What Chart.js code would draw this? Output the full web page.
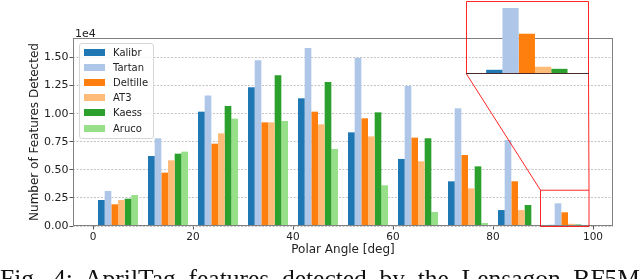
<!DOCTYPE html>
<html>
<head>
<meta charset="utf-8">
<script src="https://cdn.jsdelivr.net/npm/chart.js@4.4.1/dist/chart.umd.min.js"></script>
<style>
  html, body { margin: 0; padding: 0; background: #fff; }
  body { width: 640px; height: 279px; overflow: hidden; position: relative; font-family: "DejaVu Sans", sans-serif; }
  #mainChart { position: absolute; left: 0; top: 0; }
  #insetChart { position: absolute; }
  #legend { position: absolute; left: 79px; top: 43px; width: 73px; height: 94px; border: 1px solid #d6d6d6;
            border-radius: 3px; background: rgba(255,255,255,0.8); font-size: 10px; color: #222; }
  .row { position: absolute; left: 0; height: 14px; display: flex; align-items: center; white-space: nowrap; }
  .sw { width: 21px; height: 7px; margin-left: 4px; margin-right: 8px; }
  #caption { position: absolute; left: 0; top: 266px; width: 640px; font-family: "Liberation Serif", serif;
             font-size: 25.5px; line-height: 25.5px; text-align: justify; text-align-last: justify; color: #111; }
</style>
</head>
<body>
<canvas id="mainChart" width="640" height="279"></canvas>
<canvas id="insetChart"></canvas>
<div id="legend"></div>
<div id="caption">Fig. 4: AprilTag features detected by the Lensagon BF5M</div>
<script>
// DATOS: centro de cada bin de 10 grados
const polarBins = [5, 15, 25, 35, 45, 55, 65, 75, 85, 95];
const kalibr   = [2315, 6230, 10180, 12350, 11370, 8340, 5970, 3980, 1420, 100];
const tartan   = [3120, 7810, 11610, 14750, 15850, 14990, 12470, 10480, 7660, 2020];
const deltille = [1930, 4750, 7330, 9230, 10180, 9590, 7870, 6320, 3980, 1220];
const at3      = [2310, 5850, 8250, 9230, 9050, 7980, 5760, 3350, 1420, 195];
const kaess    = [2430, 6440, 10690, 13420, 12820, 10120, 7810, 5310, 1870, 130];
const aruco    = [2760, 6620, 9560, 9350, 6860, 3620, 1250, 270, 0, 0];
const yTicks   = [0, 2500, 5000, 7500, 10000, 12500, 15000];

const seriesNames  = ['Kalibr', 'Tartan', 'Deltille', 'AT3', 'Kaess', 'Aruco'];
const seriesValues = [kalibr, tartan, deltille, at3, kaess, aruco];
const seriesColors = ['#1f77b4', '#aec7e8', '#ff7f0e', '#ffbb78', '#2ca02c', '#98df8a'];

// zona ampliada (ejes del grafico principal) y caja del recuadro en pixeles
const zoomX = [89.4, 99.1];
const zoomY = [0, 3230];
const insetBox = { left: 466, top: 1, width: 122, height: 72 };

function makeDatasets() {
    return seriesNames.map((name, i) => ({
        label: name,
        data: polarBins.map((b, j) => ({ x: b, y: seriesValues[i][j] })),
        backgroundColor: seriesColors[i],
        borderWidth: 0,
        categoryPercentage: 0.8,
        barPercentage: 1.0
    }));
}

// marco, "1e4", rectangulo rojo y lineas de conexion
const insetMarks = {
    id: 'insetMarks',
    afterDatasetsDraw(chart) {
        const { ctx, chartArea: a, scales: { x, y } } = chart;
        ctx.save();
        ctx.strokeStyle = '#808080';
        ctx.lineWidth = 1;
        ctx.strokeRect(a.left + 0.5, a.top + 0.5, a.right - a.left - 1, a.bottom - a.top - 1);

        ctx.fillStyle = '#222';
        ctx.font = '11px "DejaVu Sans"';
        ctx.textBaseline = 'alphabetic';
        ctx.fillText('1e4', a.left + 2, a.top - 1.5);

        const zl = x.getPixelForValue(zoomX[0]), zr = x.getPixelForValue(zoomX[1]);
        const zt = y.getPixelForValue(zoomY[1]), zb = y.getPixelForValue(zoomY[0]);
        const il = insetBox.left, ir = insetBox.left + insetBox.width;
        const it = insetBox.top, ib = insetBox.top + insetBox.height + 1;

        ctx.strokeStyle = 'rgba(255,0,0,0.85)';
        ctx.beginPath();
        ctx.rect(zl + 0.5, zt + 0.5, zr - zl, zb - zt);
        ctx.moveTo(il + 0.5, ib);
        ctx.lineTo(il + 0.5, it + 0.5);
        ctx.lineTo(ir + 0.5, it + 0.5);
        ctx.lineTo(ir + 0.5, ib);
        ctx.moveTo(il + 0.5, ib);
        ctx.lineTo(zl + 0.5, zt + 0.5);
        ctx.moveTo(ir + 0.5, ib);
        ctx.lineTo(zr + 0.5, zt + 0.5);
        ctx.stroke();

        // eje inferior del recuadro
        ctx.strokeStyle = '#4a2a2a';
        ctx.beginPath();
        ctx.moveTo(il, ib - 0.5);
        ctx.lineTo(ir + 1, ib - 0.5);
        ctx.stroke();
        ctx.restore();
    }
};

new Chart(document.getElementById('mainChart'), {
    type: 'bar',
    data: { datasets: makeDatasets() },
    options: {
        responsive: false,
        animation: false,
        layout: { padding: { top: 38, right: 27, left: 0, bottom: 0 } },
        plugins: { legend: { display: false }, tooltip: { enabled: false } },
        scales: {
            x: {
                type: 'linear',
                offset: false,
                min: -4,
                max: 104,
                afterFit: s => { s.height = 53; },
                ticks: { stepSize: 20, includeBounds: false, padding: 1, color: '#222',
                         font: { family: 'DejaVu Sans', size: 10.5 } },
                grid: { offset: false, drawOnChartArea: false, tickLength: 3.5, tickColor: '#555' },
                border: { display: false },
                title: { display: true, text: 'Polar Angle [deg]', color: '#222',
                         font: { family: 'DejaVu Sans', size: 12 }, padding: { top: 0, bottom: 22 } }
            },
            y: {
                min: 0,
                max: 16740,
                afterFit: s => { s.width = 73; },
                afterBuildTicks: s => { s.ticks = yTicks.map(v => ({ value: v })); },
                ticks: { padding: 1, color: '#222', font: { family: 'DejaVu Sans', size: 11 },
                         callback: v => (v / 10000).toFixed(2) },
                grid: { color: '#b5b5b5', lineWidth: 0.8, tickLength: 3.5, tickColor: '#555', tickWidth: 1 },
                border: { display: false, dash: [2, 1.5] },
                title: { display: true, text: 'Number of Features Detected', color: '#222',
                         font: { family: 'DejaVu Sans', size: 12 }, padding: { top: 28, bottom: 0 } }
            }
        }
    },
    plugins: [insetMarks]
});

// RECUADRO AMPLIADO
const insetCanvas = document.getElementById('insetChart');
insetCanvas.width = insetBox.width;
insetCanvas.height = insetBox.height;
insetCanvas.style.left = insetBox.left + 'px';
insetCanvas.style.top = insetBox.top + 'px';
new Chart(insetCanvas, {
    type: 'bar',
    data: { datasets: makeDatasets() },
    options: {
        responsive: false,
        animation: false,
        layout: { padding: 0 },
        plugins: { legend: { display: false }, tooltip: { enabled: false } },
        scales: {
            x: { type: 'linear', display: false, offset: false, min: 90.24, max: 98.66,
                 ticks: { stepSize: 5, includeBounds: false } },
            y: { display: false, min: 0, max: 2237 }
        }
    }
});

// LEYENDA
const legend = document.getElementById('legend');
seriesNames.forEach((name, i) => {
    const row = document.createElement('div');
    row.className = 'row';
    row.style.top = (1.3 + i * 15.15) + 'px';
    row.innerHTML = '<span class="sw" style="background:' + seriesColors[i] + '"></span><span>' + name + '</span>';
    legend.appendChild(row);
});
</script>
</body>
</html>
